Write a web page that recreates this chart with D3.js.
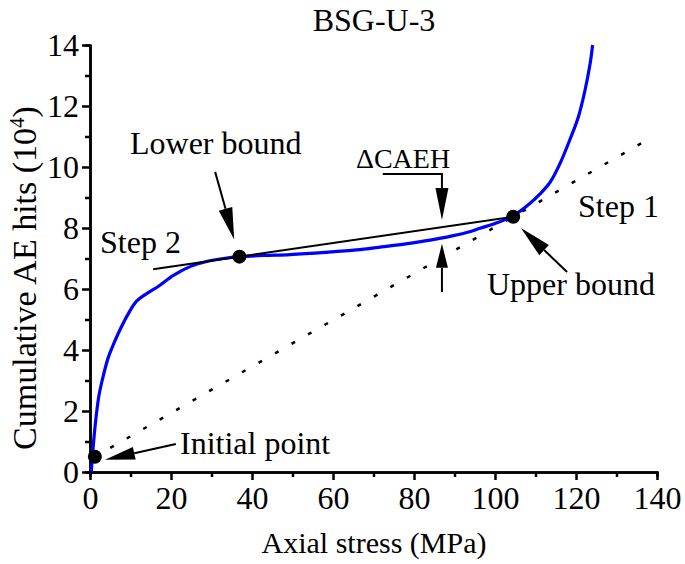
<!DOCTYPE html>
<html><head><meta charset="utf-8">
<script src="https://cdn.jsdelivr.net/npm/d3@7"></script>
<style>
html,body{margin:0;padding:0;background:#fff;}
text{font-family:"Liberation Serif","Times New Roman",serif;fill:#000;}
</style></head>
<body><svg id="c" width="685" height="564"></svg>
<script>
// ---- data ----
const stress = [0.3,0.6,0.9,1.5,2.2,3,4.5,6,7,9.5,11.5,14,17,20.6,25,28.8,33,36.9,43,49.4,58,65.8,72,78,84,88,93,96.3,100,104.5,108.6,111,113.6,116,118.5,120.6,122.2,123.5,124.1];
const hits   = [0,0.5,1.0,1.8,2.5,3.0,3.75,4.25,4.55,5.2,5.6,5.85,6.1,6.45,6.75,6.9,7.0,7.06,7.1,7.13,7.2,7.28,7.38,7.48,7.6,7.7,7.85,7.99,8.15,8.4,8.8,9.1,9.5,10.1,10.9,11.65,12.5,13.4,14.0];
const xTicks = [0,20,40,60,80,100,120,140];
const yTicks = [0,2,4,6,8,10,12,14];
const keyNames  = ["Initial point","Lower bound","Upper bound"];
const keyStress = [1.2,36.9,104.5];
const keyHits   = [0.5,7.06,8.37];
const secantStress = [5,138.7];     // dotted line (Step 1)
const tangentStress = [15.6,104.5]; // solid line (Step 2)

const x=d3.scaleLinear().domain([0,140]).range([90,657]);
const y=d3.scaleLinear().domain([0,14]).range([472,45]);
const svg=d3.select("#c");
const FS=32;

// title
svg.append("text").attr("x",374).attr("y",31).attr("text-anchor","middle").attr("font-size",FS).text("BSG-U-3");

// axes
const xAxis=svg.append("g").attr("transform","translate(0,472)");
xAxis.call(d3.axisBottom(x).tickValues(xTicks).tickSize(8).tickSizeOuter(0).tickPadding(6));
xAxis.append("g").call(d3.axisBottom(x).tickValues(d3.range(10,140,20)).tickSize(5).tickFormat(""));
const yAxis=svg.append("g").attr("transform","translate(90,0)");
yAxis.call(d3.axisLeft(y).tickValues(yTicks).tickSize(8).tickSizeOuter(0).tickPadding(3));
yAxis.append("g").call(d3.axisLeft(y).tickValues(d3.range(1,14,2)).tickSize(5).tickFormat(""));
svg.selectAll(".domain").attr("stroke","#000").attr("stroke-width",2.5);
svg.selectAll(".tick line").attr("stroke","#000").attr("stroke-width",2.5);
svg.selectAll(".tick text").attr("font-size",FS).attr("font-family","Liberation Serif").attr("fill","#000");

// axis titles
svg.append("text").attr("x",374).attr("y",553).attr("text-anchor","middle").attr("font-size",30).text("Axial stress (MPa)");
const yt=svg.append("text").attr("transform","translate(36,278) rotate(-90)").attr("text-anchor","middle").attr("font-size",34);
yt.append("tspan").text("Cumulative AE hits (10");
yt.append("tspan").attr("dy",-12).attr("font-size",21).text("4");
yt.append("tspan").attr("dy",12).text(")");

// secant dotted line through initial point and upper bound
const slope=(keyHits[2]-keyHits[0])/(keyStress[2]-keyStress[0]);
svg.append("line")
  .attr("x1",x(secantStress[0])).attr("y1",y(keyHits[0]+slope*(secantStress[0]-keyStress[0])))
  .attr("x2",x(secantStress[1])).attr("y2",y(keyHits[0]+slope*(secantStress[1]-keyStress[0])))
  .attr("stroke","#000").attr("stroke-width",2.5).attr("stroke-dasharray","4,15");

// curve
const pts=stress.map((s,i)=>[s,hits[i]]);
svg.append("path").datum(pts)
  .attr("d",d3.line().x(d=>x(d[0])).y(d=>y(d[1])).curve(d3.curveCatmullRom.alpha(0.5)))
  .attr("fill","none").attr("stroke","#0000ff").attr("stroke-width",3.2);

// tangent line through lower bound and upper bound
const tslope=(keyHits[2]-keyHits[1])/(keyStress[2]-keyStress[1]);
svg.append("line")
  .attr("x1",x(tangentStress[0])).attr("y1",y(keyHits[1]+tslope*(tangentStress[0]-keyStress[1])))
  .attr("x2",x(tangentStress[1])).attr("y2",y(keyHits[1]+tslope*(tangentStress[1]-keyStress[1])))
  .attr("stroke","#000").attr("stroke-width",2);

// key points
svg.selectAll("circle.k").data(keyStress).enter().append("circle")
  .attr("cx",d=>x(d)).attr("cy",(d,i)=>y(keyHits[i])).attr("r",7).attr("fill","#000");

// arrows (in data units)
function arrow(pts,hl,hw){
  const p=pts.map(d=>[x(d[0]),y(d[1])]);
  const a=p[p.length-2], b=p[p.length-1];
  const dx=b[0]-a[0], dy=b[1]-a[1], L=Math.hypot(dx,dy), ux=dx/L, uy=dy/L;
  const bx=b[0]-ux*hl, by=b[1]-uy*hl;
  const lp=p.slice(0,-1).concat([[bx,by]]);
  svg.append("path").attr("d",d3.line()(lp)).attr("fill","none").attr("stroke","#000").attr("stroke-width",2);
  svg.append("path").attr("d",d3.line()([[b[0],b[1]],[bx-uy*hw/2,by+ux*hw/2],[bx,by],[bx+uy*hw/2,by-ux*hw/2]])+"Z").attr("fill","#000");
}
arrow([[21.2,0.92],[3.7,0.4]],30,13);
arrow([[30.9,9.84],[35.6,7.62]],32,14);
arrow([[117.8,6.56],[106.4,8.0]],32,14);
arrow([[72.3,9.77],[86.9,9.77],[86.9,8.26]],32,13);
arrow([[86.9,5.9],[86.9,7.48]],24,12);

// labels
const lab=(t,xx,yy,anchor,fs)=>svg.append("text").attr("x",xx).attr("y",yy).attr("font-size",fs||FS).attr("text-anchor",anchor||"start").text(t);
lab("Initial point",180,454);
lab("Lower bound",130,154);
lab("\u0394CAEH",403,168,"middle",28);
lab("Step 2",100,253);
lab("Step 1",578,217);
lab("Upper bound",487,295);
</script></body></html>
